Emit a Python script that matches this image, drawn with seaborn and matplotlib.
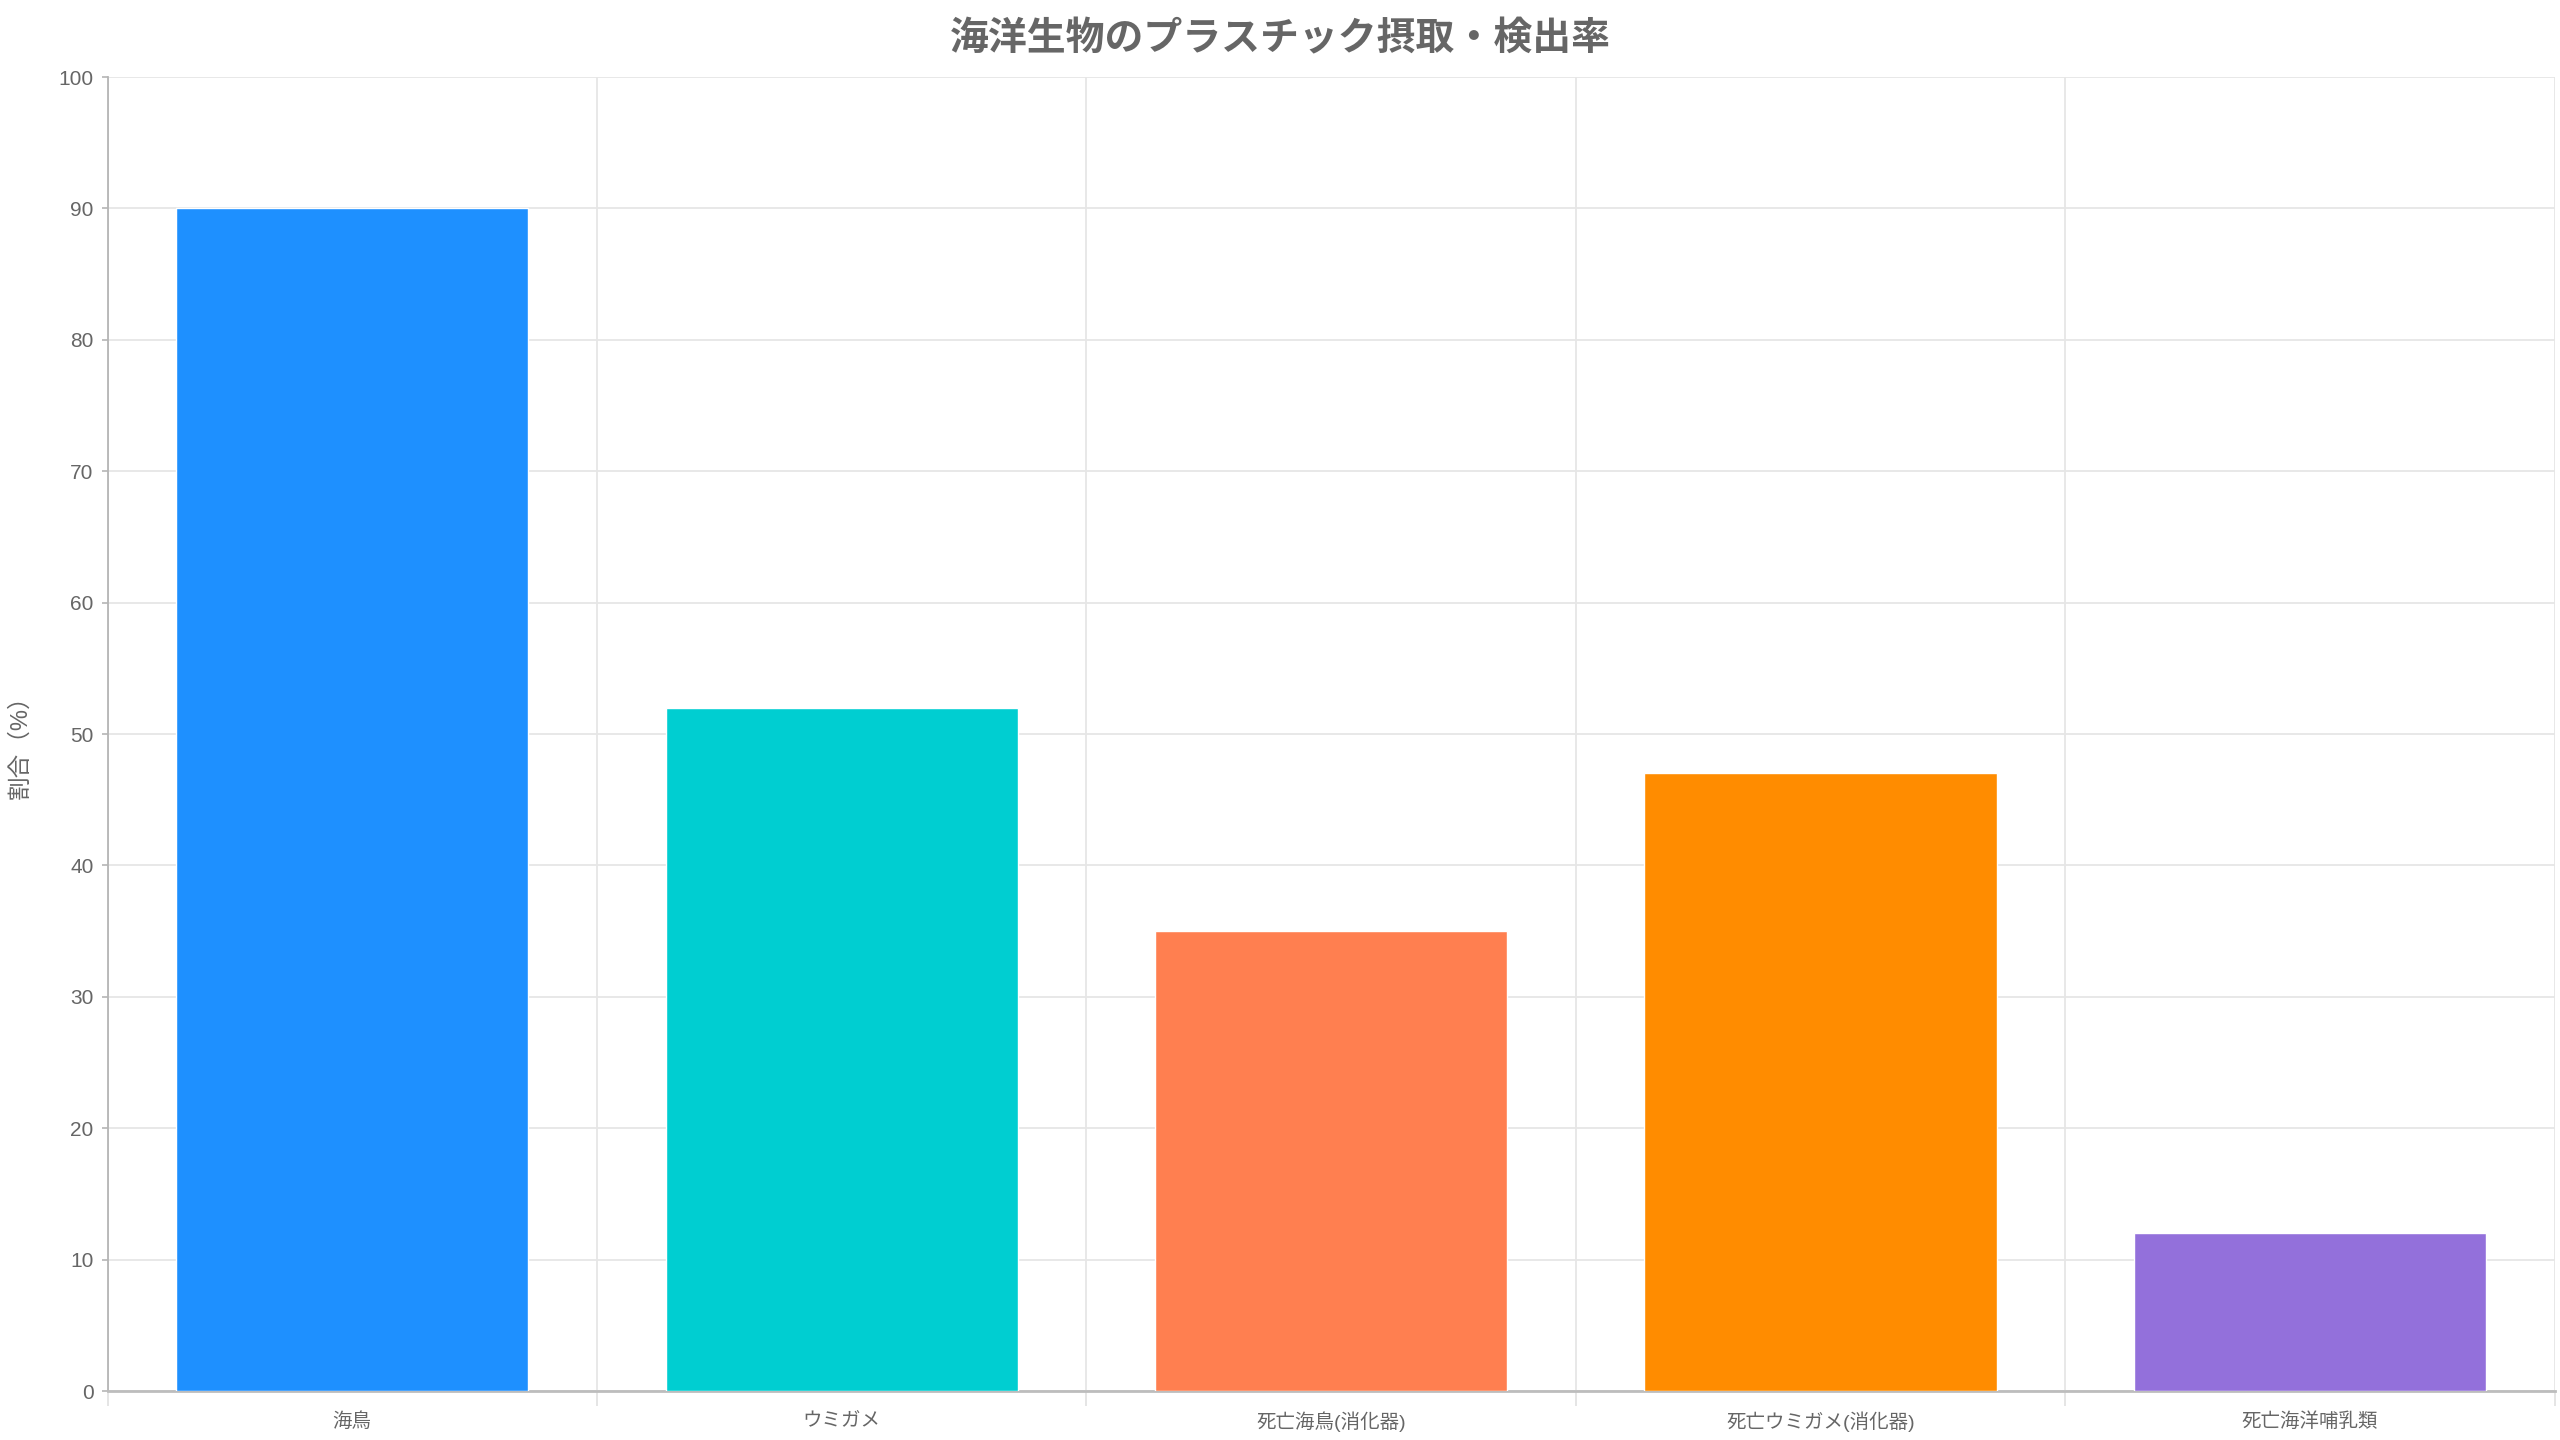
import matplotlib
matplotlib.use('Agg')
import matplotlib.pyplot as plt
import pandas as pd
import seaborn as sns
from matplotlib.ticker import FixedLocator, MultipleLocator

# data
categories = ['海鳥', 'ウミガメ', '死亡海鳥(消化器)', '死亡ウミガメ(消化器)', '死亡海洋哺乳類']
rates = [90, 52, 35, 47, 12]
bar_colors = ['#1E90FF', '#00CED1', '#FF7F50', '#FF8C00', '#9370DB']

title = '海洋生物のプラスチック摂取・検出率'
y_label = '割合（%）'

sns.set_theme(style='white')
plt.rcParams['font.family'] = ['Liberation Sans', 'Noto Sans CJK JP', 'DejaVu Sans']

df = pd.DataFrame({'category': categories, 'rate': rates})

fig = plt.figure(figsize=(25.6, 14.4), dpi=100)
ax = fig.add_axes([0.042, 0.034, 0.956, 0.9125])

sns.barplot(data=df, x='category', y='rate', hue='category', order=categories,
            palette=dict(zip(categories, bar_colors)), width=0.72, dodge=False,
            legend=False, saturation=1, ax=ax, zorder=3)

ax.set_xlim(-0.5, len(categories) - 0.5)
ax.set_ylim(0, 100)
ax.yaxis.set_major_locator(MultipleLocator(10))
ax.xaxis.set_minor_locator(FixedLocator([i - 0.5 for i in range(len(categories) + 1)]))

# grid
ax.grid(axis='y', which='major', color='#e6e6e6', linewidth=1.3, zorder=0)
ax.grid(axis='x', which='minor', color='#e6e6e6', linewidth=1.3, zorder=0)
ax.grid(axis='x', which='major', visible=False)
ax.set_axisbelow(True)

for side in ['top', 'right']:
    ax.spines[side].set_visible(False)
ax.spines['left'].set_color('#b5b5b5')
ax.spines['left'].set_linewidth(1.3)
ax.spines['bottom'].set_color('#bdbdbd')
ax.spines['bottom'].set_linewidth(2)

ax.tick_params(axis='y', which='major', length=4, width=1.2, color='#b5b5b5',
               labelsize=15, labelcolor='#666666', pad=6, left=True)
ax.tick_params(axis='x', which='major', length=0, labelsize=14, labelcolor='#666666', pad=22)
ax.tick_params(axis='x', which='minor', length=11, width=1.2, color='#e0e0e0', bottom=True)
for lbl in ax.get_xticklabels():
    lbl.set_va('center')

ax.set_xlabel('')
ax.set_ylabel('')

fig.text(0.008, 0.485, y_label, rotation=90, ha='center', va='center',
         fontsize=17, color='#666666')
fig.suptitle(title, x=0.5, y=0.972, va='center', fontsize=28,
             fontweight='bold', color='#666666')

fig.savefig('out.png', dpi=100)
